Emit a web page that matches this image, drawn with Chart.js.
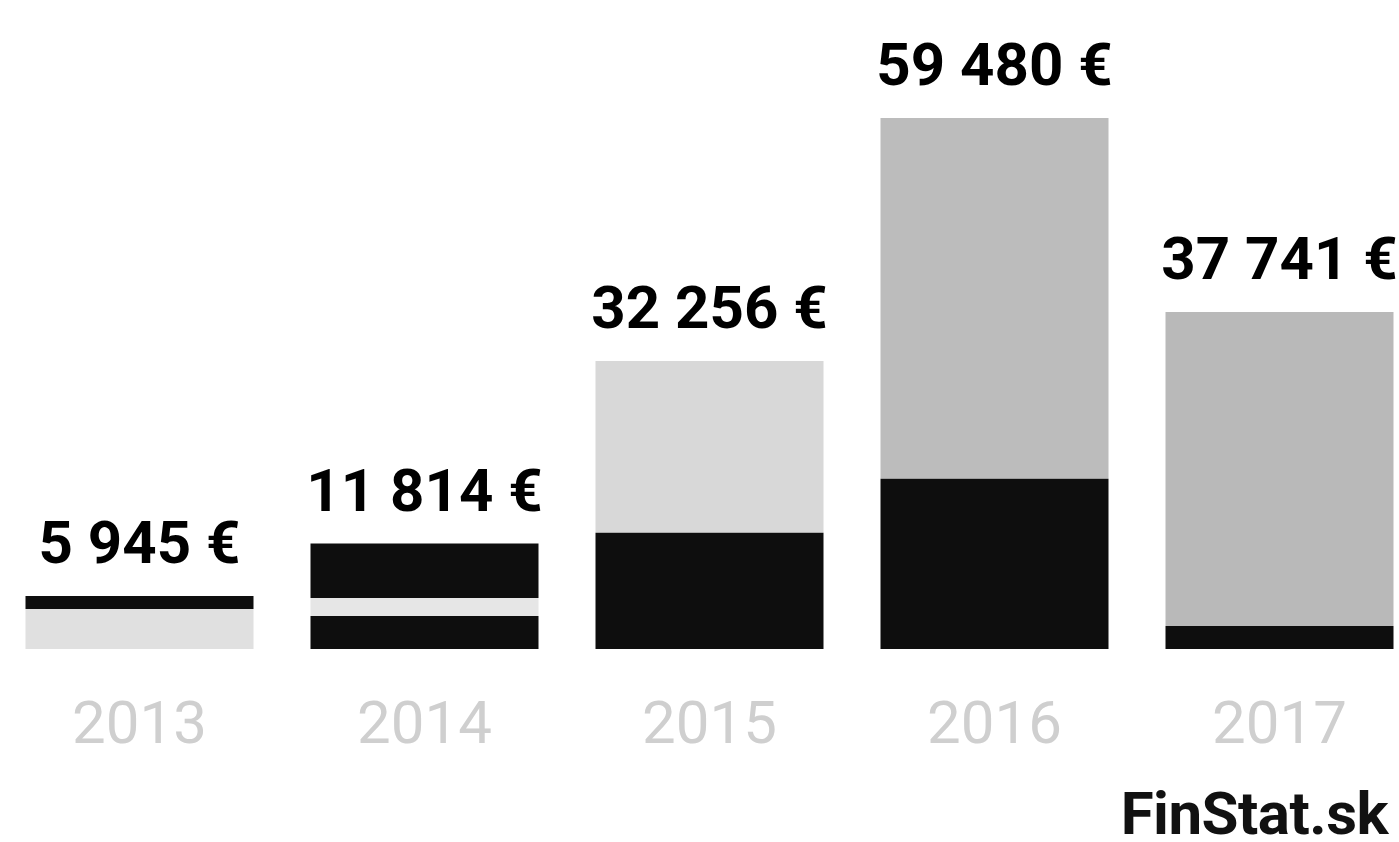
<!DOCTYPE html>
<html>
<head>
<meta charset="utf-8">
<script src="https://cdn.jsdelivr.net/npm/chart.js@4"></script>
<style>
  html, body { margin: 0; padding: 0; background: #ffffff; overflow: hidden; width: 1399px; height: 842px; }
  #wrap { position: absolute; left: -3px; top: 0; width: 1425px; height: 842px; }
  #brand { position: absolute; right: 11px; top: 778px; font-family: Roboto, "Noto Sans", sans-serif; font-weight: 700; font-size: 60px; color: #111111; line-height: 72px; letter-spacing: -0.5px; }
</style>
</head>
<body>
<div id="wrap"><canvas id="c"></canvas></div>
<div id="brand">FinStat.sk</div>
<script>
// Years on the x axis
const years = ['2013', '2014', '2015', '2016', '2017'];
// Totals shown above each bar (€)
const totals = [5945, 11814, 32256, 59480, 37741];
// Visible segments of each bar, bottom to top (€)
const segmentLower  = [4490, 3700, 13015, 19075, 2580];
const segmentMiddle = [0, 2020, 0, 0, 0];
const segmentUpper  = [1455, 6094, 19241, 40405, 35161];

const DARK = '#0e0e0e';
const lowerColors  = ['#e0e0e0', DARK, DARK, DARK, DARK];
const middleColors = ['#e8e8e8', '#e6e6e6', '#e8e8e8', '#e8e8e8', '#e8e8e8'];
const upperColors  = [DARK, DARK, '#d8d8d8', '#bcbcbc', '#b9b9b9'];

function fmt(v) {
  return String(v).replace(/\B(?=(\d{3})+(?!\d))/g, ' ') + ' €';
}

const totalLabels = {
  id: 'totalLabels',
  afterDatasetsDraw(chart) {
    const ctx = chart.ctx;
    const yScale = chart.scales.y;
    const meta = chart.getDatasetMeta(0);
    ctx.save();
    ctx.font = '700 60px Roboto, "Noto Sans", sans-serif';
    ctx.fillStyle = '#000000';
    ctx.textAlign = 'center';
    ctx.textBaseline = 'alphabetic';
    totals.forEach((t, i) => {
      const x = meta.data[i].x;
      const y = yScale.getPixelForValue(t);
      ctx.fillText(fmt(t), x, y - 33);
    });
    ctx.restore();
  }
};

new Chart(document.getElementById('c'), {
  type: 'bar',
  data: {
    labels: years,
    datasets: [
      { label: 'lower', data: segmentLower, backgroundColor: lowerColors, borderWidth: 0 },
      { label: 'middle', data: segmentMiddle, backgroundColor: middleColors, borderWidth: 0 },
      { label: 'upper', data: segmentUpper, backgroundColor: upperColors, borderWidth: 0 }
    ]
  },
  options: {
    responsive: true,
    maintainAspectRatio: false,
    animation: false,
    layout: { padding: { top: 24, bottom: 35, left: 0, right: 0 } },
    datasets: { bar: { barPercentage: 0.8, categoryPercentage: 1.0 } },
    plugins: { legend: { display: false }, tooltip: { enabled: false }, title: { display: false } },
    scales: {
      x: {
        stacked: true,
        grid: { display: false, drawTicks: false },
        border: { display: false },
        ticks: {
          color: '#cfcfcf',
          padding: 43,
          font: { family: 'Roboto, "Noto Sans", sans-serif', size: 60, weight: '400' }
        }
      },
      y: {
        stacked: true,
        display: false,
        min: 0,
        max: 70000
      }
    }
  },
  plugins: [totalLabels]
});
</script>
</body>
</html>
